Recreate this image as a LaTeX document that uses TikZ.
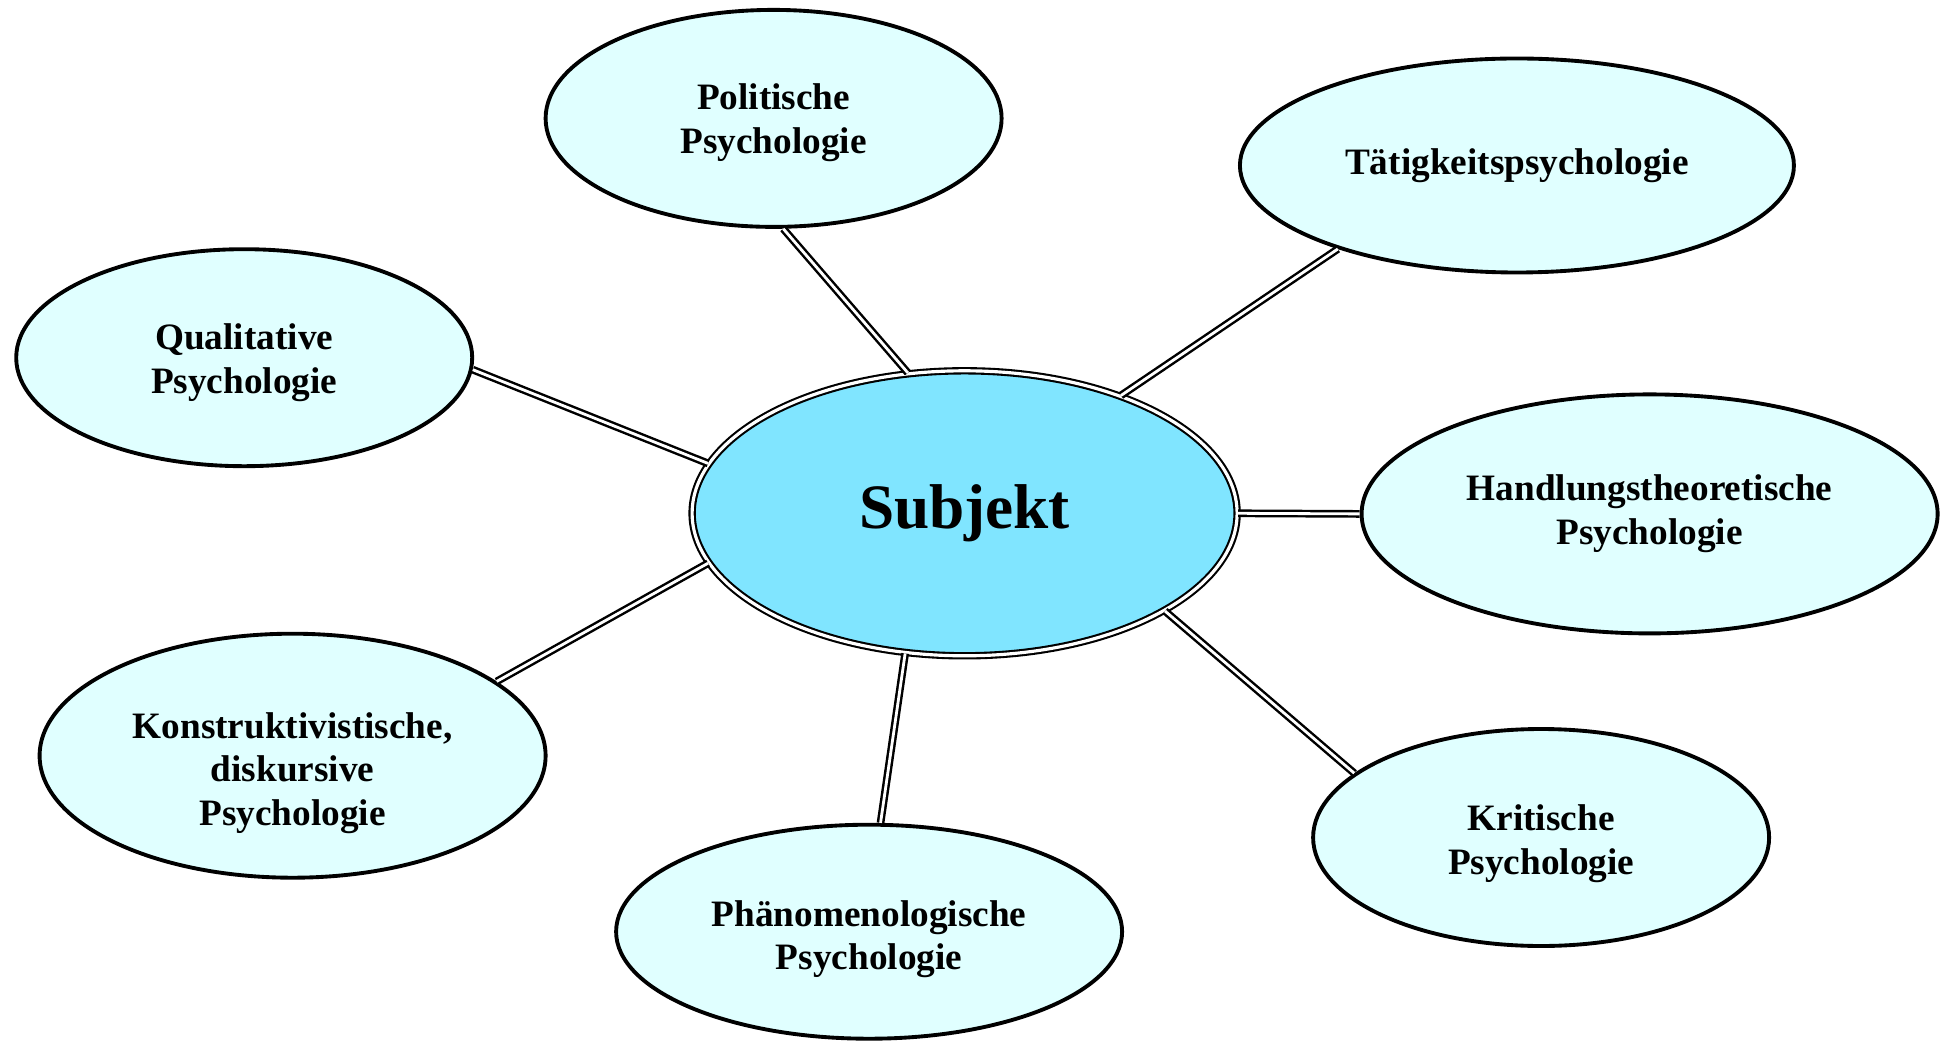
\documentclass[tikz,border=0pt]{standalone}
\usepackage{fontspec}
\setmainfont{Liberation Serif}
\usetikzlibrary{shapes.geometric}
\definecolor{subjfill}{RGB}{128,229,255}
\definecolor{fieldfill}{RGB}{224,255,255}
\newcommand\lowr[1]{\rule{0pt}{\dimexpr 7.3pt+#1*2\relax}}
\tikzset{
  field/.style={ellipse, draw, line width=1.1pt, fill=fieldfill, inner sep=0pt,
    align=center, font=\bfseries\fontsize{10.6}{12.4}\selectfont},
  link/.style={double, double distance=0.8pt, line width=0.7pt},
}
\begin{document}
\begin{tikzpicture}
\useasboundingbox (0,0) rectangle (19.44,-10.43);
% centre
\node[ellipse, draw, double=white, double distance=0.9pt, line width=0.6pt, fill=subjfill,
  minimum width=5.45cm, minimum height=2.85cm, inner sep=0pt,
  font=\bfseries\fontsize{18}{20}\selectfont] (subj) at (9.646,-5.133) {Subjekt};
% fields
\node[field, minimum width=4.56cm, minimum height=2.17cm] (pol) at (7.736,-1.184) {\lowr{1.2pt}Politische\\Psychologie};
\node[field, minimum width=5.54cm, minimum height=2.14cm] (taet) at (15.169,-1.655) {Tätigkeitspsychologie};
\node[field, minimum width=4.56cm, minimum height=2.17cm] (qual) at (2.442,-3.577) {\lowr{1.4pt}Qualitative\\Psychologie};
\node[field, minimum width=5.76cm, minimum height=2.39cm] (hand) at (16.496,-5.139) {Handlungstheoretische\\Psychologie};
\node[field, minimum width=5.06cm, minimum height=2.44cm] (konst) at (2.926,-7.557) {\lowr{4.9pt}Konstruktivistische,\\diskursive\\Psychologie};
\node[field, minimum width=5.06cm, minimum height=2.14cm] (phaen) at (8.691,-9.317) {\lowr{2.1pt}Phänomenologische\\Psychologie};
\node[field, minimum width=4.56cm, minimum height=2.17cm] (krit) at (15.411,-8.375) {\lowr{1.8pt}Kritische\\Psychologie};
% links
\draw[link] (pol.275.3) -- (subj.112.1);
\draw[link] (taet.205.9) -- (subj.37.1);
\draw[link] (qual.357) -- (subj.169.1);
\draw[link] (hand.180) -- (subj.0);
\draw[link] (konst.20.3) -- (subj.191.4);
\draw[link] (phaen.84) -- (subj.247.7);
\draw[link] (krit.161.6) -- (subj.334.7);
\end{tikzpicture}
\end{document}
